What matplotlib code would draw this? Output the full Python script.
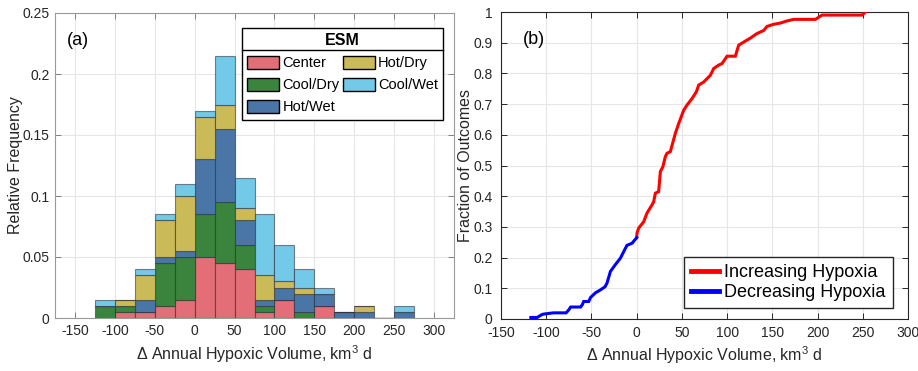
import matplotlib
matplotlib.use("Agg")
import matplotlib.pyplot as plt
import numpy as np
from matplotlib.lines import Line2D

plt.rcParams['font.family'] = ['Liberation Sans', 'DejaVu Sans']
plt.rcParams['mathtext.fontset'] = 'custom'
plt.rcParams['mathtext.rm'] = 'Liberation Sans'
plt.rcParams['mathtext.it'] = 'Liberation Sans:italic'
plt.rcParams['axes.unicode_minus'] = False

# ---- panel (a): stacked histogram of relative frequency, bins 25 wide ----
bin_left = [-125, -100, -75, -50, -25, 0, 25, 50, 75, 100, 125, 150, 175, 200, 225, 250]
esm_names = ['Center', 'Cool/Dry', 'Hot/Wet', 'Hot/Dry', 'Cool/Wet']
center   = [0, .005, .005, .010, .015, .050, .045, .040, .005, .015, 0, .010, 0, 0, 0, 0]
cool_dry = [.010, .005, 0, .035, .035, .035, .050, .020, .005, 0, .005, 0, 0, 0, 0, 0]
hot_wet  = [0, 0, .010, .005, .005, .045, .060, .020, .005, .010, .015, .010, .005, .005, 0, .005]
hot_dry  = [0, .005, .020, .030, .045, .035, .020, .010, .020, .005, .005, 0, 0, .005, 0, 0]
cool_wet = [.005, 0, .005, .005, .010, .005, .040, .025, .050, .030, .015, .005, 0, 0, 0, .005]
esm_colors = ['#E36E78', '#3A843D', '#4A76A7', '#CBBA58', '#72C9E8']

dec_x = [-117, -110, -105, -103, -92, -78, -75, -73, -62, -60, -58.6, -53, -51, -45.7,
         -40, -35, -32.8, -29, -23.6, -18, -12.5, -10.7, -5, 0]
dec_f = [0.005, 0.005, 0.014, 0.016, 0.02, 0.02, 0.03, 0.039, 0.039, 0.047, 0.057, 0.057,
         0.07, 0.085, 0.095, 0.105, 0.117, 0.155, 0.177, 0.198, 0.23, 0.24, 0.247, 0.265]
inc_x = [0, 0.4, 2.2, 7.8, 11.4, 17, 18.8, 20.7, 24.3, 26.2, 29, 31.7, 33.6, 37.2, 42.8,
         46.5, 52, 55.7, 61.2, 66, 68.6, 74.1, 81.5, 85.2, 90.7, 94.4, 99.9, 109.1, 112.8,
         118.3, 125.7, 133.1, 140.5, 144.1, 151.5, 158.9, 166.3, 173.6, 197.6, 205, 249.2, 252.9]
inc_f = [0.265, 0.28, 0.296, 0.317, 0.345, 0.372, 0.382, 0.41, 0.415, 0.48, 0.496, 0.529,
         0.54, 0.545, 0.605, 0.637, 0.68, 0.697, 0.718, 0.74, 0.762, 0.772, 0.794, 0.816,
         0.827, 0.832, 0.856, 0.856, 0.892, 0.902, 0.915, 0.93, 0.94, 0.953, 0.96, 0.964,
         0.971, 0.976, 0.976, 0.99, 0.99, 1.0]

W, H = 918, 371
fig = plt.figure(figsize=(W / 100, H / 100), dpi=100)
ax1 = fig.add_axes([55 / W, (H - 318) / H, 399 / W, 305 / H])
ax2 = fig.add_axes([501 / W, (H - 319) / H, 407 / W, 307 / H])

xlabel = r'$\Delta$ Annual Hypoxic Volume, km$^{3}$ d'
grid_c = '#e6e6e6'
txt_c = '#262626'

# panel (a)
series = [center, cool_dry, hot_wet, hot_dry, cool_wet]
bottom = np.zeros(len(bin_left))
handles = []
for name, vals, col in zip(esm_names, series, esm_colors):
    b = ax1.bar(bin_left, vals, width=25, bottom=bottom, align='edge', color=col,
                edgecolor=(0.15, 0.15, 0.2, 0.55), linewidth=0.8, label=name, zorder=2)
    handles.append(b)
    bottom += np.array(vals)

ax1.set_xlim(-175, 325)
ax1.set_ylim(0, 0.25)
ax1.set_xticks(np.arange(-150, 301, 50))
ax1.set_yticks([0, 0.05, 0.1, 0.15, 0.2, 0.25])
ax1.set_yticklabels(['0', '0.05', '0.1', '0.15', '0.2', '0.25'])
ax1.grid(True, color=grid_c, linewidth=0.8, zorder=0)
ax1.set_axisbelow(True)
for s in ax1.spines.values():
    s.set_color('#9a9a9a')
    s.set_linewidth(0.8)
ax1.tick_params(direction='in', top=True, right=True, length=4, width=0.7,
                color='#808080', labelsize=10, labelcolor=txt_c, pad=4)
ax1.set_xlabel(xlabel, fontsize=11.5, color=txt_c, labelpad=4)
ax1.set_ylabel('Relative Frequency', fontsize=11.5, color=txt_c)
ax1.yaxis.set_label_coords(-0.08, 0.5)
ax1.text(0.03, 0.91, '(a)', transform=ax1.transAxes, fontsize=13, va='center', ha='left')

leg1 = ax1.legend(handles=handles, ncol=2, title='ESM', loc='upper right',
                  bbox_to_anchor=(0.973, 0.95), borderaxespad=0, fancybox=False,
                  edgecolor='black', framealpha=1, fontsize=10.5,
                  handlelength=2.2, handleheight=1.05, handletextpad=0.2,
                  columnspacing=0.25, labelspacing=0.5, borderpad=0.35)
leg1.get_frame().set_linewidth(1.0)
leg1.get_title().set_fontweight('bold')
leg1.get_title().set_fontsize(11.5)
for p in leg1.get_patches():
    p.set_edgecolor('black')
    p.set_linewidth(1.0)

# panel (b)
ax2.plot(inc_x, inc_f, color='#ff0000', linewidth=2.2, label='Increasing Hypoxia',
         solid_joinstyle='miter', zorder=3)
ax2.plot(dec_x, dec_f, color='#0000ff', linewidth=2.2, label='Decreasing Hypoxia',
         solid_joinstyle='miter', zorder=3)
ax2.set_xlim(-150, 300)
ax2.set_ylim(0, 1)
ax2.set_xticks(np.arange(-150, 301, 50))
ax2.set_yticks(np.arange(0, 1.01, 0.1))
ax2.set_yticklabels(['0', '0.1', '0.2', '0.3', '0.4', '0.5', '0.6', '0.7', '0.8', '0.9', '1'])
ax2.grid(True, color=grid_c, linewidth=0.8, zorder=0)
ax2.set_axisbelow(True)
for s in ax2.spines.values():
    s.set_color('#262626')
    s.set_linewidth(0.8)
ax2.tick_params(direction='in', top=True, right=True, length=4, width=0.7,
                color='#262626', labelsize=10, labelcolor=txt_c, pad=5)
ax2.tick_params(axis='y', pad=6)
ax2.set_xlabel(xlabel, fontsize=11.5, color=txt_c, labelpad=3)
ax2.set_ylabel('Fraction of Outcomes', fontsize=11.5, color=txt_c)
ax2.yaxis.set_label_coords(-0.068, 0.5)
ax2.text(0.054, 0.909, '(b)', transform=ax2.transAxes, fontsize=13, va='center', ha='left')

leg2 = ax2.legend(loc='lower right', bbox_to_anchor=(0.962, 0.035), borderaxespad=0,
                  fancybox=False, edgecolor='#262626', framealpha=1, fontsize=13,
                  handlelength=1.5, handletextpad=0.3, labelspacing=0.15, borderpad=0.4)
leg2.get_frame().set_linewidth(1.0)
for ln in leg2.get_lines():
    ln.set_linewidth(3.5)

# separator line under the ESM legend title
fig.canvas.draw()
lb = leg1.get_window_extent()
tb = leg1.get_title().get_window_extent()
ysep = tb.y0 - 2
inv = fig.transFigure.inverted()
(x0, y0), (x1, _) = inv.transform([(lb.x0, ysep), (lb.x1, ysep)])
fig.add_artist(Line2D([x0, x1], [y0, y0], transform=fig.transFigure, color='black',
                      linewidth=1.0, zorder=10))

fig.savefig('out.png', dpi=100)
